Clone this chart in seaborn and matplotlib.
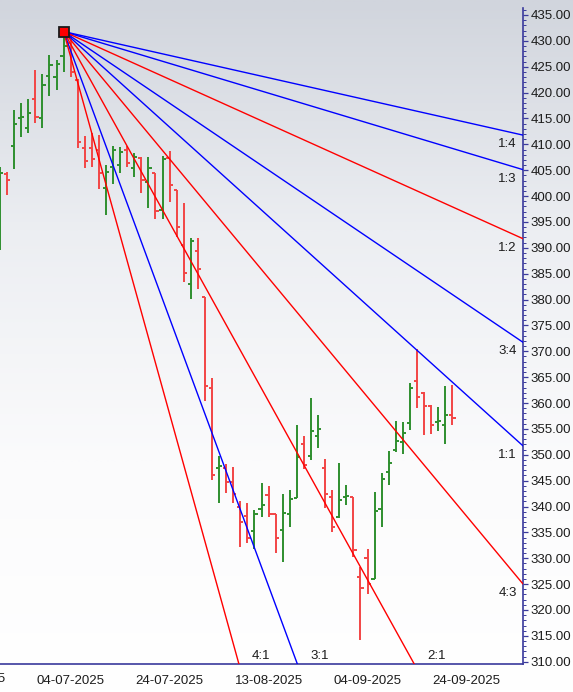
import numpy as np
import pandas as pd
import matplotlib
matplotlib.use("Agg")
import matplotlib.pyplot as plt
from matplotlib.colors import LinearSegmentedColormap
from matplotlib.ticker import MultipleLocator
import seaborn as sns

# ---- daily OHLC (bar index 0 = 04-07-2025) ----
bar_index = list(range(-10, 55))
opens = [391.0, 404.3, 409.6, 415.0, 413.2, 418.7, 415.0, 423.2, 423.0, 427.0,
         429.5, 422.4, 409.2, 409.2, 409.0, 401.5, 405.7, 406.0, 409.0, 405.5,
         407.3, 402.8, 404.4, 397.3, 407.3, 401.2, 390.5, 383.0, 389.3, 380.4,
         363.0, 347.5, 347.5, 344.8, 340.0, 338.2, 335.2, 339.6, 342.2, 338.5,
         335.5, 338.5, 341.6, 352.1, 349.8, 353.6, 347.5, 341.9, 337.9, 341.8,
         341.8, 326.3, 330.0, 326.0, 339.5, 346.6, 351.0, 352.5, 356.1, 364.2,
         362.0, 359.4, 356.3, 355.7, 357.7]
highs = [405.7, 404.7, 416.6, 418.0, 418.8, 424.4, 423.6, 427.3, 426.3, 431.8,
         431.3, 422.6, 411.6, 412.1, 411.8, 406.0, 409.7, 409.5, 409.7, 408.3,
         407.6, 407.6, 404.4, 407.7, 408.8, 401.2, 398.6, 391.8, 391.8, 380.4,
         364.9, 349.8, 348.2, 347.6, 341.1, 340.7, 339.3, 344.5, 344.0, 338.5,
         342.5, 343.2, 355.8, 353.6, 360.9, 357.7, 349.1, 343.2, 348.4, 344.2,
         341.8, 328.4, 331.8, 342.9, 346.4, 350.7, 356.5, 356.4, 363.8, 370.4,
         362.2, 359.6, 359.2, 363.3, 363.5]
lows = [389.6, 400.3, 405.2, 411.4, 412.1, 414.2, 413.2, 419.4, 420.5, 424.0,
        423.1, 409.2, 405.5, 405.7, 401.4, 396.3, 402.3, 404.5, 405.7, 403.7,
        400.5, 397.6, 395.5, 395.5, 398.9, 392.0, 383.3, 380.2, 382.0, 360.3,
        345.1, 340.7, 342.7, 340.7, 332.1, 332.9, 331.7, 338.0, 338.0, 331.1,
        329.3, 336.1, 341.6, 347.2, 349.0, 351.3, 339.7, 335.1, 337.7, 340.3,
        330.3, 314.2, 323.1, 326.0, 336.1, 344.2, 350.5, 350.2, 354.8, 359.0,
        353.9, 354.0, 354.5, 352.0, 355.7]
closes = [404.4, 403.1, 413.9, 415.3, 416.1, 415.2, 421.5, 425.3, 425.5, 429.0,
          424.0, 410.5, 406.8, 407.1, 404.4, 404.7, 409.0, 408.6, 406.3, 407.5,
          403.1, 405.4, 397.2, 407.1, 402.1, 394.0, 385.2, 391.3, 386.0, 363.2,
          346.1, 347.8, 344.8, 342.5, 337.1, 334.0, 338.6, 340.3, 338.5, 334.0,
          338.8, 341.5, 349.6, 348.0, 354.6, 355.0, 342.4, 336.0, 341.3, 342.0,
          331.6, 324.2, 325.0, 339.1, 345.4, 348.5, 352.7, 354.3, 363.0, 361.2,
          359.4, 355.7, 356.5, 357.7, 357.2]

# ---- date axis ----
tick_index = [-14, 0, 14, 28, 42, 56]
tick_labels = ["16-06-2025", "04-07-2025", "24-07-2025", "13-08-2025",
               "04-09-2025", "24-09-2025"]

# ---- Gann fan from the swing high ----
pivot_index = -1
pivot_price = 431.8
fan_unit = 1.232          # price per bar on the 1:1 line
fan_labels = ["1:4", "1:3", "1:2", "3:4", "1:1", "4:3", "2:1", "3:1", "4:1"]
fan_ratios = [1 / 4, 1 / 3, 1 / 2, 3 / 4, 1.0, 4 / 3, 2.0, 3.0, 4.0]
fan_colors = ["#0000ff", "#0000ff", "#ff0000", "#0000ff", "#0000ff",
              "#ff0000", "#ff0000", "#0000ff", "#ff0000"]

# ---- styling ----
sns.set_style("white")
plt.rcParams["font.family"] = ["Liberation Sans", "DejaVu Sans"]
UP = "#2e8f2e"
DOWN = "#f24545"
AXIS = "#3a3a9c"
TEXT = "#1c1c1c"

W, H = 573, 692
fig = plt.figure(figsize=(W / 100, H / 100), dpi=100)

# soft vertical gradient behind everything
bg = fig.add_axes([0, 0, 1, 1], zorder=-10)
grad = np.linspace(0, 1, 512).reshape(-1, 1)
cmap = LinearSegmentedColormap.from_list("bg", ["#d1d5dd", "#eceef2", "#fbfbfc", "#ffffff"])
bg.imshow(grad, aspect="auto", cmap=cmap, extent=[0, 1, 0, 1], origin="upper")
bg.axis("off")

ax = fig.add_axes([0, 28 / H, 523 / W, 656 / H])
ax.patch.set_alpha(0)

x_lo, x_hi = -10, 64
y_lo, y_hi = 309.56, 436.35
ax.set_xlim(x_lo, x_hi)
ax.set_ylim(y_lo, y_hi)

# OHLC bars
ohlc = pd.DataFrame(dict(i=bar_index, o=opens, h=highs, l=lows, c=closes))
col = np.where(ohlc["c"] >= ohlc["o"], UP, DOWN)
ax.vlines(ohlc["i"], ohlc["l"], ohlc["h"], colors=col, lw=1.4, zorder=2)
ax.hlines(ohlc["o"], ohlc["i"] - 0.45, ohlc["i"], colors=col, lw=1.4, zorder=2)
ax.hlines(ohlc["c"], ohlc["i"], ohlc["i"] + 0.45, colors=col, lw=1.4, zorder=2)

# fan lines
rows = []
for lab, r in zip(fan_labels, fan_ratios):
    for x in (pivot_index, x_hi):
        rows.append(dict(label=lab, x=x, y=pivot_price - r * fan_unit * (x - pivot_index)))
fan = pd.DataFrame(rows)
sns.lineplot(data=fan, x="x", y="y", hue="label", hue_order=fan_labels,
             palette=dict(zip(fan_labels, fan_colors)), estimator=None,
             sort=False, legend=False, lw=1.0, ax=ax, zorder=3)

# fan labels: at the right edge or where the line leaves the bottom
for lab, r in zip(fan_labels, fan_ratios):
    end_y = pivot_price - r * fan_unit * (x_hi - pivot_index)
    if end_y > y_lo:
        ax.annotate(lab, xy=(x_hi, end_y), xytext=(-4.5, -6.5),
                    textcoords="offset points", ha="right", va="center",
                    fontsize=9.5, color=TEXT)
    else:
        x_cross = pivot_index + (pivot_price - y_lo) / (r * fan_unit)
        ax.annotate(lab, xy=(x_cross, y_lo), xytext=(9.3, 5.8),
                    textcoords="offset points", ha="left", va="center",
                    fontsize=9.5, color=TEXT)

# pivot marker
ax.plot([pivot_index], [pivot_price], marker="s", ms=7, mfc="#ff0000",
        mec="#1a1a1a", mew=1.3, zorder=6, clip_on=False)

# axes / ticks
ax.set_xlabel("")
ax.set_ylabel("")
for s in ("top", "left"):
    ax.spines[s].set_visible(False)
for s in ("right", "bottom"):
    ax.spines[s].set_color(AXIS)
    ax.spines[s].set_linewidth(1.2)

ax.yaxis.tick_right()
yt = np.arange(310, 436, 5)
ax.set_yticks(yt)
ax.set_yticklabels([f"{v:.2f}" for v in yt])
ax.yaxis.set_minor_locator(MultipleLocator(1))
ax.tick_params(axis="y", which="major", length=3.8, width=0.9, color=AXIS,
               pad=1.5, labelsize=9.5, labelcolor=TEXT)
ax.tick_params(axis="y", which="minor", length=2.2, width=0.7, color=AXIS)

vis = [t for t in tick_index if x_lo <= t <= x_hi]
ax.set_xticks(vis)
ax.set_xticklabels([lab for t, lab in zip(tick_index, tick_labels) if x_lo <= t <= x_hi])
minor_x = [tick_index[0] + k * 2.8 for k in range(0, 30)]
minor_x = [m for m in minor_x if x_lo <= m <= x_hi and abs(m / 14 - round(m / 14)) > 1e-6]
ax.set_xticks(minor_x, minor=True)
ax.tick_params(axis="x", which="major", length=3.8, width=0.9, color=AXIS,
               pad=4, labelsize=9.5, labelcolor=TEXT)
ax.tick_params(axis="x", which="minor", length=2.2, width=0.7, color=AXIS)

# date label partly off the left edge
ax.annotate(tick_labels[0], xy=(tick_index[0], y_lo), xycoords="data",
            xytext=(0, -6.8), textcoords="offset points", ha="center", va="top",
            fontsize=9.5, color=TEXT, annotation_clip=False)

fig.savefig("out.png", dpi=100)
